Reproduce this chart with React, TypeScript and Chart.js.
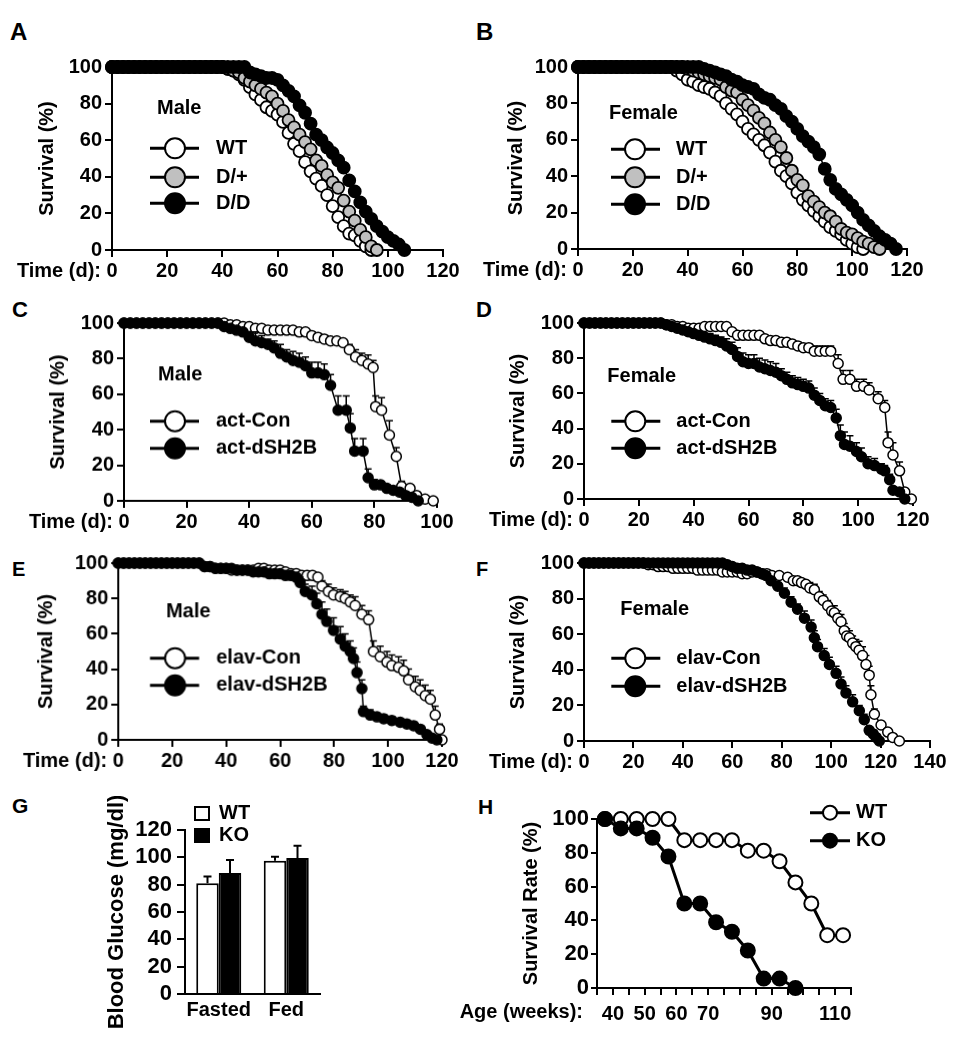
import React, { useEffect, useRef } from "react";
import { Chart, registerables } from "chart.js";

Chart.register(...registerables);

const FONT = "'Liberation Sans', Arial, Helvetica, sans-serif";
Chart.defaults.font.family = FONT;
Chart.defaults.font.weight = "bold";
Chart.defaults.color = "#000";

// ================= DATA =================
// Panel A (male) – days and survival (%)
const daysA = [0,2,4,6,8,10,12,14,16,18,20,22,24,26,28,30,32,34,36,38,40,42,44,46,48,50,52,54,56,58,60,62,64,66,68,70,72,74,76,78,80,82,84,86,88,90,92,94,96,98,100,102,104,106];
const wtA = [100,100,100,100,100,100,100,100,100,100,100,100,100,100,100,100,100,100,100,100,100,99,98,96,93,89,85,82,78,76,74,70,64,58,54,48,43,39,35,30,24,18,13,9,8,5,2,0,null,null,null,null,null,null];
const hetA = [100,100,100,100,100,100,100,100,100,100,100,100,100,100,100,100,100,100,100,100,100,99,98,97,94,92,90,88,86,84,80,76,71,67,63,59,55,49,46,41,37,34,27,21,16,11,7,2,0,null,null,null,null,null];
const ddA = [100,100,100,100,100,100,100,100,100,100,100,100,100,100,100,100,100,100,100,100,100,100,100,100,100,97,96,95,94,94,93,90,87,84,79,75,69,63,60,56,53,49,45,38,32,26,21,17,13,10,7,5,3,0];

// Panel B (female)
const daysB = [0,2,4,6,8,10,12,14,16,18,20,22,24,26,28,30,32,34,36,38,40,42,44,46,48,50,52,54,56,58,60,62,64,66,68,70,72,74,76,78,80,82,84,86,88,90,92,94,96,98,100,102,104,106,108,110,112,114,116];
const wtB = [100,100,100,100,100,100,100,100,100,100,100,100,100,100,100,100,100,100,98,96,93,92,90,89,88,86,84,80,77,74,70,66,63,60,57,53,48,43,40,36,31,27,24,21,18,15,12,10,8,5,3,1,0,null,null,null,null,null,null];
const hetB = [100,100,100,100,100,100,100,100,100,100,100,100,100,100,100,100,100,100,100,100,99,98,97,96,95,94,93,89,87,86,82,79,76,72,69,64,60,56,50,43,38,35,29,26,23,20,18,15,11,9,8,6,4,3,1,0,null,null,null];
const ddB = [100,100,100,100,100,100,100,100,100,100,100,100,100,100,100,100,100,100,100,100,100,100,100,99,98,97,96,95,93,92,90,89,88,85,83,82,79,77,73,70,66,62,59,56,52,44,38,33,30,27,24,20,16,13,10,7,5,3,0];

// Panel C (male, act)
const conCDays = [0,2,4,6,8,10,12,14,16,18,20,22,24,26,28,30,32,34,36,38,40,42,44,46,48,50,52,54,56,58,60,62,64,66,68,70,72,74,76,78,79.6,80.4,82.3,84.8,87,88.7,91.4,93.5,96.2,98.8];
const conCVals = [100,100,100,100,100,100,100,100,100,100,100,100,100,100,100,100,100,99,99,98,98,97,97,96,96,96,96,96,95,95,93,92,91,90,90,89,85,81,79,77,75,53,51,37,25,8,7,3,1,0];
const conCErr = [0,0,0,0,0,0,0,0,0,0,0,0,0,0,0,0,0,0,0,0,0,0,0,0,0,0,0,0,0,0,0,0,0,0,0,0,3,4,4,5,4,6,7,8,5,3,2,1,0,0];
const dshCDays = [0,2,4,6,8,10,12,14,16,18,20,22,24,26,28,30,32,34,36,38,40,42,44,46,48,50,52,54,56,58,60,62,64,66,68.4,71,72.3,73.7,76.4,78,80,82,84,86,88,90,92,94];
const dshCVals = [100,100,100,100,100,100,100,100,100,100,100,100,100,100,100,100,98,97,96,95,92,90,89,88,86,83,81,79,78,76,72,72,71,65,51,51,41,28,28,13,9,9,7,6,5,3,2,0];
const dshCErr = [0,0,0,0,0,0,0,0,0,0,0,0,0,0,0,0,0,0,0,0,3,5,4,3,4,5,4,5,5,5,6,6,6,6,8,8,8,7,7,5,3,2,2,1,1,1,0,0];

// Panel D (female, act)
const conDDays = [0,2,4,6,8,10,12,14,16,18,20,22,24,26,28,30,32,34,36,38,40,42,44,46,48,50,52,54,56,58,60,62,64,66,68,70,72,74,76,78,80,82,84,86,88,90,92.7,94.5,97,99.4,102,104,107.3,109.7,110.9,112.7,115.1,117,119.4];
const conDVals = [100,100,100,100,100,100,100,100,100,100,100,100,100,100,100,99,99,98,98,97,97,97,98,98,98,98,98,95,93,93,93,93,93,91,90,90,89,89,88,87,86,86,84,84,84,84,77,68,68,64,64,62,57,52,32,25,16,4,0];
const conDErr = [0,0,0,0,0,0,0,0,0,0,0,0,0,0,0,0,0,0,0,0,0,0,0,0,0,0,1,2,2,2,2,2,2,2,2,2,2,2,2,2,2,2,3,3,3,3,5,5,5,4,4,4,4,4,6,7,5,2,0];
const dshDDays = [0,2,4,6,8,10,12,14,16,18,20,22,24,26,28,30,32,34,36,38,40,42,44,46,48,50,52,54,56,58,60,62,64,66,68,70,72,74,76,78,80,82,84,86,88,90,92,93.5,95,97,99.4,101.2,103.6,106,108.5,109.7,111.5,112.7,115.1,117];
const dshDVals = [100,100,100,100,100,100,100,100,100,100,100,100,100,100,100,99,98,97,96,95,94,93,92,91,90,89,87,85,81,78,77,77,75,74,73,72,70,68,66,65,64,63,59,56,53,52,46,36,31,30,27,24,20,19,17,16,11,5,4,0];
const dshDErr = [0,0,0,0,0,0,0,0,0,0,0,0,0,0,0,0,0,0,0,0,2,2,2,3,3,3,4,4,5,5,5,5,5,5,5,5,4,4,4,4,4,4,4,4,4,4,5,6,7,6,5,5,4,4,3,3,3,2,1,0];

// Panel E (male, elav)
const conEDays = [0,2,4,6,8,10,12,14,16,18,20,22,24,26,28,30,32,34,36,38,40,42,44,46,48,50,52,54,56,58,60,62,64,66,68,70,72,74,75.5,77.9,79.8,82.3,84.1,86,87.8,90.3,92.8,94.6,97.1,99.6,101.4,103.9,105.8,107.6,110.1,111.9,113.8,115.7,117.5,119.1,120];
const conEVals = [100,100,100,100,100,100,100,100,100,100,100,100,100,100,100,100,98,98,97,97,97,96,96,96,96,96,97,97,96,96,96,95,94,94,93,93,93,92,87,84,82,81,80,78,76,71,68,50,47,44,42,41,39,34,30,28,25,23,14,6,0];
const conEErr = [0,0,0,0,0,0,0,0,0,0,0,0,0,0,0,0,0,0,0,0,0,0,0,0,0,0,0,0,0,0,0,1,1,2,2,2,2,2,3,4,4,4,4,4,5,5,5,6,6,6,6,6,6,6,6,6,6,5,5,3,0];
const dshEDays = [0,2,4,6,8,10,12,14,16,18,20,22,24,26,28,30,32,34,36,38,40,42,44,46,48,50,52,54,56,58,60,62,64,66,67.4,69.3,71.8,73.6,75.5,77.3,79.8,82.3,84.1,86,87.2,88.5,90.3,90.9,93.4,95.9,98.4,101.4,104.5,107,109.5,112,114.4,116.3,118.1];
const dshEVals = [100,100,100,100,100,100,100,100,100,100,100,100,100,100,100,100,98,98,97,97,97,97,96,96,96,95,95,95,94,94,94,93,93,92,89,84,82,77,71,67,62,57,53,50,46,38,29,16,14,13,12,11,10,9,8,6,3,1,0];
const dshEErr = [0,0,0,0,0,0,0,0,0,0,0,0,0,0,0,0,0,0,0,0,0,0,0,0,0,0,0,0,0,0,0,0,0,1,3,4,5,6,7,7,7,7,7,6,6,6,5,3,3,2,2,2,2,2,2,2,2,1,0];

// Panel F (female, elav)
const conFDays = [0,2,4,6,8,10,12,14,16,18,20,22,24,26,28,30,32,34,36,38,40,42,44,46,48,50,52,54,56,58,60,62,64,66,68,70,72,74,76,79,82.4,84.7,86.4,88,89.8,91.4,93.2,95.2,96.8,98.6,100.2,101.3,102.7,104,105.3,106.3,107.4,108.7,110,111.3,112.7,114.1,115.4,116.1,117.5,120.2,122.9,124.9,127.6];
const conFVals = [100,100,100,100,100,100,100,100,100,100,100,100,100,99,99,98,98,98,97,97,97,97,97,96,96,96,96,96,95,95,95,95,94,94,95,95,94,94,93,93,92,90,90,89,88,86,85,81,79,76,73,72,69,67,62,59,58,55,53,51,48,43,37,26,15,9,5,2,0];
const conFErr = [0,0,0,0,0,0,0,0,0,0,0,0,0,0,0,0,0,0,0,0,0,0,0,0,0,0,0,0,0,0,0,0,0,0,0,0,0,0,0,1,1,2,2,2,2,3,3,3,3,3,3,4,4,4,4,4,4,4,4,5,5,5,5,5,3,2,2,1,0];
const dshFDays = [0,2,4,6,8,10,12,14,16,18,20,22,24,26,28,30,32,34,36,38,40,42,44,46,48,50,52,54,56,58,60,62,64,66,68,70,72,73.6,75.7,78.4,81.1,83.8,86.4,89.2,91.9,93.2,94.5,97.2,99.3,102,104,106,108.7,111.4,113.4,115.4,117,118.2,119.5];
const dshFVals = [100,100,100,100,100,100,100,100,100,100,100,100,100,100,100,100,100,100,100,100,100,100,100,100,100,100,100,100,100,99,98,97,97,96,96,95,94,93,90,87,83,78,74,69,64,58,53,48,43,38,32,27,22,17,12,6,4,2,0];
const dshFErr = [0,0,0,0,0,0,0,0,0,0,0,0,0,0,0,0,0,0,0,0,0,0,0,0,0,0,0,0,0,0,0,0,0,0,0,0,0,1,2,2,3,3,3,4,4,4,4,4,4,4,4,4,4,3,3,2,2,1,0];

// Panel G (blood glucose)
const gGroups = ["Fasted", "Fed"];
const gWT = [81, 97.5];
const gWTErr = [5, 3];
const gKO = [88.5, 99.5];
const gKOErr = [9.5, 9];

// Panel H (mouse survival)
const hWeeks = [37.5, 42.5, 47.5, 52.5, 57.5, 62.5, 67.5, 72.5, 77.5, 82.5, 87.5, 92.5, 97.5, 102.5, 107.5, 112.5];
const hWT = [100, 100, 100, 100, 100, 87.5, 87.5, 87.5, 87.5, 81.25, 81.25, 75, 62.5, 50, 31.25, 31.25];
const hKO = [100, 94.4, 94.4, 88.9, 77.8, 50, 50, 38.9, 33.3, 22.2, 5.6, 5.6, 0, null, null, null];
const hTickLabels = [40, 50, 60, 70, 90, 110];

// ================= HELPERS =================
const WHITE = "#ffffff";
const GRAY = "#c0c0c0";
const BLACK = "#000000";

function toPoints(xs: number[], ys: (number | null)[], errs?: number[]) {
  const out: any[] = [];
  for (let i = 0; i < xs.length; i++) {
    const y = ys[i];
    if (y === null || y === undefined) continue;
    out.push({ x: xs[i], y, e: errs ? errs[i] || 0 : 0 });
  }
  return out;
}

const errorBarPlugin = {
  id: "errbars",
  beforeDatasetDraw(chart: any, args: any) {
    const ds: any = chart.data.datasets[args.index];
    if (!ds.errStyle) return;
    const meta = args.meta;
    const yScale = chart.scales[meta.yAxisID];
    const ctx = chart.ctx;
    ctx.save();
    ctx.strokeStyle = "#000";
    ctx.lineWidth = ds.errStyle.lw;
    meta.data.forEach((el: any, i: number) => {
      const raw = ds.data[i];
      const e = ds.errs ? ds.errs[i] : raw && raw.e;
      if (!e) return;
      const v = typeof raw === "number" ? raw : raw.y;
      const yTop = yScale.getPixelForValue(v + e);
      const x = el.x;
      ctx.beginPath();
      ctx.moveTo(x, el.y);
      ctx.lineTo(x, yTop);
      ctx.moveTo(x - ds.errStyle.cap, yTop);
      ctx.lineTo(x + ds.errStyle.cap, yTop);
      ctx.stroke();
    });
    ctx.restore();
  },
};

function makeOverlay(ox: number, oy: number, items: any[]) {
  return {
    id: "overlay",
    afterDraw(chart: any) {
      const ctx = chart.ctx;
      ctx.save();
      for (const it of items) {
        if (it.kind === "text") {
          ctx.font = `bold ${it.size}px ${FONT}`;
          ctx.fillStyle = "#000";
          ctx.textAlign = it.align;
          ctx.textBaseline = "middle";
          ctx.fillText(it.text, it.x - ox, it.y - oy);
        } else if (it.kind === "sample") {
          ctx.strokeStyle = "#000";
          ctx.lineWidth = it.lw;
          ctx.beginPath();
          ctx.moveTo(it.x1 - ox, it.y - oy);
          ctx.lineTo(it.x2 - ox, it.y - oy);
          ctx.stroke();
          ctx.beginPath();
          ctx.arc(it.cx - ox, it.y - oy, it.r, 0, Math.PI * 2);
          ctx.fillStyle = it.fill;
          ctx.fill();
          ctx.lineWidth = it.bw;
          ctx.stroke();
        } else if (it.kind === "square") {
          ctx.fillStyle = it.fill;
          ctx.fillRect(it.x - ox, it.y - oy, it.w, it.h);
          ctx.strokeStyle = "#000";
          ctx.lineWidth = 2;
          ctx.strokeRect(it.x - ox, it.y - oy, it.w, it.h);
        }
      }
      ctx.restore();
    },
  };
}

const axisGrid = (len: number) => ({
  drawOnChartArea: false,
  drawTicks: true,
  tickLength: len,
  color: "#000",
  lineWidth: 2,
});
const axisBorder = { display: true, color: "#000", width: 2 };

type Area = { l: number; t: number; r: number; b: number };
type SeriesSpec = { label: string; xs: number[]; ys: (number | null)[]; errs?: number[]; fill: string };

function survivalSpec(o: {
  area: Area;
  xMax: number;
  series: SeriesSpec[];
  radius: number;
  ptBorder: number;
  titleX: number;
  header: string;
  hx: number;
  hy: number;
  rows: number[];
  lx1: number;
  lx2: number;
  cx: number;
  tx: number;
}) {
  const fs = 20;
  const padT = 16;
  const padR = 26;
  const xH = 40;
  const left = o.area.l - 108;
  const top = o.area.t - padT;
  const yW = o.area.l - left;
  const w = yW + (o.area.r - o.area.l) + padR;
  const h = padT + (o.area.b - o.area.t) + xH;
  const items: any[] = [
    { kind: "text", text: "Time (d):", x: o.area.l - 11, y: o.area.b + 21, align: "right", size: fs },
    { kind: "text", text: o.header, x: o.hx, y: o.hy, align: "left", size: fs },
  ];
  o.series.forEach((s, i) => {
    items.push({ kind: "sample", x1: o.lx1, x2: o.lx2, cx: o.cx, y: o.rows[i], r: 10, fill: s.fill, lw: 3, bw: 2 });
    items.push({ kind: "text", text: s.label, x: o.tx, y: o.rows[i], align: "left", size: fs });
  });
  const make = () => ({
    type: "line",
    data: {
      datasets: o.series
        .map((s) => ({
          label: s.label,
          data: toPoints(s.xs, s.ys, s.errs),
          showLine: true,
          borderColor: "#000",
          borderWidth: 1.5,
          pointRadius: o.radius,
          pointHoverRadius: o.radius,
          pointBackgroundColor: s.fill,
          pointBorderColor: "#000",
          pointBorderWidth: o.ptBorder,
          clip: false,
          tension: 0,
          fill: false,
          errs: undefined,
          errStyle: s.errs ? { lw: 1.5, cap: 3.5 } : undefined,
        }))
        .reverse(),
    },
    options: {
      responsive: false,
      animation: false,
      events: [],
      layout: { padding: { left: 0, top: padT, right: padR, bottom: 0 } },
      plugins: { legend: { display: false }, tooltip: { enabled: false } },
      scales: {
        x: {
          type: "linear",
          min: 0,
          max: o.xMax,
          grid: axisGrid(7),
          border: axisBorder,
          ticks: { stepSize: 20, autoSkip: false, maxRotation: 0, padding: 2, color: "#000", font: { size: fs, weight: "bold" } },
          afterFit: (s: any) => {
            s.height = xH;
          },
        },
        y: {
          type: "linear",
          min: 0,
          max: 100,
          grid: axisGrid(7),
          border: axisBorder,
          ticks: { stepSize: 20, autoSkip: false, padding: 3, color: "#000", font: { size: fs, weight: "bold" } },
          title: {
            display: true,
            text: "Survival (%)",
            color: "#000",
            font: { size: fs, weight: "bold", lineHeight: 1 },
            padding: { top: o.titleX - left - fs / 2, bottom: 0 },
          },
          afterFit: (s: any) => {
            s.width = yW;
          },
        },
      },
    },
    plugins: [errorBarPlugin, makeOverlay(left, top, items)],
  });
  return { x: left, y: top, w, h, make };
}

// ================= PANEL SPECS =================
const LEFT_LEG = { lx1: 150, lx2: 199, cx: 175, tx: 216 };
const RIGHT_LEG = { lx1: 611, lx2: 660, cx: 635, tx: 676 };

const specA = survivalSpec({
  area: { l: 112, t: 66.7, r: 443.3, b: 250 },
  xMax: 120,
  series: [
    { label: "WT", xs: daysA, ys: wtA, fill: WHITE },
    { label: "D/+", xs: daysA, ys: hetA, fill: GRAY },
    { label: "D/D", xs: daysA, ys: ddA, fill: BLACK },
  ],
  radius: 6,
  ptBorder: 1.8,
  titleX: 47,
  header: "Male",
  hx: 157,
  hy: 108,
  rows: [148, 177, 203],
  ...LEFT_LEG,
});

const specB = survivalSpec({
  area: { l: 578, t: 66.7, r: 907, b: 249.3 },
  xMax: 120,
  series: [
    { label: "WT", xs: daysB, ys: wtB, fill: WHITE },
    { label: "D/+", xs: daysB, ys: hetB, fill: GRAY },
    { label: "D/D", xs: daysB, ys: ddB, fill: BLACK },
  ],
  radius: 6,
  ptBorder: 1.8,
  titleX: 516,
  header: "Female",
  hx: 609,
  hy: 113,
  rows: [149, 177, 204],
  ...RIGHT_LEG,
});

const specC = survivalSpec({
  area: { l: 124, t: 323.3, r: 437.3, b: 501 },
  xMax: 100,
  series: [
    { label: "act-Con", xs: conCDays, ys: conCVals, errs: conCErr, fill: WHITE },
    { label: "act-dSH2B", xs: dshCDays, ys: dshCVals, errs: dshCErr, fill: BLACK },
  ],
  radius: 5,
  ptBorder: 1.5,
  titleX: 58,
  header: "Male",
  hx: 158,
  hy: 375,
  rows: [421, 448],
  ...LEFT_LEG,
});

const specD = survivalSpec({
  area: { l: 583.7, t: 322.7, r: 913, b: 499.3 },
  xMax: 120,
  series: [
    { label: "act-Con", xs: conDDays, ys: conDVals, errs: conDErr, fill: WHITE },
    { label: "act-dSH2B", xs: dshDDays, ys: dshDVals, errs: dshDErr, fill: BLACK },
  ],
  radius: 5,
  ptBorder: 1.5,
  titleX: 518,
  header: "Female",
  hx: 607,
  hy: 376,
  rows: [421, 448],
  ...RIGHT_LEG,
});

const specE = survivalSpec({
  area: { l: 118.3, t: 563.3, r: 441.7, b: 740 },
  xMax: 120,
  series: [
    { label: "elav-Con", xs: conEDays, ys: conEVals, errs: conEErr, fill: WHITE },
    { label: "elav-dSH2B", xs: dshEDays, ys: dshEVals, errs: dshEErr, fill: BLACK },
  ],
  radius: 5,
  ptBorder: 1.5,
  titleX: 47,
  header: "Male",
  hx: 166,
  hy: 612,
  rows: [658, 685],
  ...LEFT_LEG,
});

const specF = survivalSpec({
  area: { l: 583.7, t: 562.7, r: 929.7, b: 740.7 },
  xMax: 140,
  series: [
    { label: "elav-Con", xs: conFDays, ys: conFVals, errs: conFErr, fill: WHITE },
    { label: "elav-dSH2B", xs: dshFDays, ys: dshFVals, errs: dshFErr, fill: BLACK },
  ],
  radius: 5,
  ptBorder: 1.5,
  titleX: 518,
  header: "Female",
  hx: 620,
  hy: 609,
  rows: [658, 686],
  ...RIGHT_LEG,
});

// Panel G
function glucoseSpec() {
  const area = { l: 185, t: 830, r: 320, b: 994 };
  const left = 100;
  const padT = 34;
  const padR = 20;
  const xH = 36;
  const top = area.t - padT;
  const yW = area.l - left;
  const w = yW + (area.r - area.l) + padR;
  const h = padT + (area.b - area.t) + xH;
  const items = [
    { kind: "square", x: 195, y: 807, w: 14, h: 13, fill: WHITE },
    { kind: "square", x: 195, y: 829, w: 14, h: 13, fill: BLACK },
    { kind: "text", text: "WT", x: 219, y: 813, align: "left", size: 20 },
    { kind: "text", text: "KO", x: 219, y: 835, align: "left", size: 20 },
  ];
  const make = () => ({
    type: "bar",
    data: {
      labels: gGroups,
      datasets: [
        {
          label: "WT",
          data: gWT,
          errs: gWTErr,
          errStyle: { lw: 2, cap: 4 },
          backgroundColor: WHITE,
          borderColor: "#000",
          borderWidth: 2,
          categoryPercentage: 0.667,
          barPercentage: 1,
        },
        {
          label: "KO",
          data: gKO,
          errs: gKOErr,
          errStyle: { lw: 2, cap: 4 },
          backgroundColor: BLACK,
          borderColor: "#000",
          borderWidth: 2,
          categoryPercentage: 0.667,
          barPercentage: 1,
        },
      ],
    },
    options: {
      responsive: false,
      animation: false,
      events: [],
      layout: { padding: { left: 0, top: padT, right: padR, bottom: 0 } },
      plugins: { legend: { display: false }, tooltip: { enabled: false } },
      scales: {
        x: {
          grid: { display: false, drawTicks: false },
          border: axisBorder,
          ticks: {
            autoSkip: false,
            maxRotation: 0,
            minRotation: 0,
            padding: 4,
            color: "#000",
            font: { size: 20, weight: "bold" },
          },
          afterFit: (s: any) => {
            s.height = xH;
          },
        },
        y: {
          min: 0,
          max: 120,
          grid: axisGrid(8),
          border: axisBorder,
          ticks: { stepSize: 20, autoSkip: false, padding: 5, color: "#000", font: { size: 22, weight: "bold" } },
          title: {
            display: true,
            text: "Blood Glucose (mg/dl)",
            color: "#000",
            font: { size: 22, weight: "bold", lineHeight: 1 },
            padding: { top: 117 - left - 11, bottom: 0 },
          },
          afterFit: (s: any) => {
            s.width = yW;
          },
        },
      },
    },
    plugins: [errorBarPlugin, makeOverlay(left, top, items)],
  });
  return { x: left, y: top, w, h, make };
}

// Panel H
function mouseSpec() {
  const area = { l: 597, t: 819.3, r: 851, b: 988.3 };
  const left = 460;
  const padT = 24;
  const padR = 50;
  const xH = 44;
  const top = area.t - padT;
  const yW = area.l - left;
  const w = yW + (area.r - area.l) + padR;
  const h = padT + (area.b - area.t) + xH;
  const items = [
    { kind: "text", text: "Age (weeks):", x: 583, y: 1013, align: "right", size: 20 },
    { kind: "sample", x1: 810, x2: 850, cx: 830, y: 813, r: 7, fill: WHITE, lw: 3, bw: 2 },
    { kind: "text", text: "WT", x: 856, y: 813, align: "left", size: 20 },
    { kind: "sample", x1: 810, x2: 850, cx: 830, y: 841, r: 7, fill: BLACK, lw: 3, bw: 2 },
    { kind: "text", text: "KO", x: 856, y: 841, align: "left", size: 20 },
  ];
  const ds = (label: string, ys: (number | null)[], fill: string) => ({
    label,
    data: toPoints(hWeeks, ys),
    showLine: true,
    borderColor: "#000",
    borderWidth: 3,
    pointRadius: 7,
    pointHoverRadius: 7,
    pointBackgroundColor: fill,
    pointBorderColor: "#000",
    pointBorderWidth: 2,
    clip: false,
    tension: 0,
    fill: false,
  });
  const make = () => ({
    type: "line",
    data: { datasets: [ds("KO", hKO, BLACK), ds("WT", hWT, WHITE)] },
    options: {
      responsive: false,
      animation: false,
      events: [],
      layout: { padding: { left: 0, top: padT, right: padR, bottom: 0 } },
      plugins: { legend: { display: false }, tooltip: { enabled: false } },
      scales: {
        x: {
          type: "linear",
          min: 35,
          max: 115,
          grid: axisGrid(7),
          border: axisBorder,
          ticks: {
            stepSize: 5,
            autoSkip: false,
            maxRotation: 0,
            padding: 7,
            color: "#000",
            font: { size: 20, weight: "bold" },
            callback: (v: any) => (hTickLabels.indexOf(Number(v)) >= 0 ? String(v) : ""),
          },
          afterFit: (s: any) => {
            s.height = xH;
          },
        },
        y: {
          type: "linear",
          min: 0,
          max: 100,
          grid: axisGrid(6),
          border: axisBorder,
          ticks: { stepSize: 20, autoSkip: false, padding: 2, color: "#000", font: { size: 22, weight: "bold" } },
          title: {
            display: true,
            text: "Survival Rate (%)",
            color: "#000",
            font: { size: 20, weight: "bold", lineHeight: 1 },
            padding: { top: 531 - left - 10, bottom: 0 },
          },
          afterFit: (s: any) => {
            s.width = yW;
          },
        },
      },
    },
    plugins: [makeOverlay(left, top, items)],
  });
  return { x: left, y: top, w, h, make };
}

const PANELS = [specA, specB, specC, specD, specE, specF, glucoseSpec(), mouseSpec()];

const LETTERS = [
  { t: "A", x: 10, y: 20, s: 24 },
  { t: "B", x: 476, y: 20, s: 24 },
  { t: "C", x: 12, y: 299, s: 22 },
  { t: "D", x: 476, y: 299, s: 22 },
  { t: "E", x: 12, y: 559, s: 20 },
  { t: "F", x: 476, y: 559, s: 20 },
  { t: "G", x: 12, y: 795, s: 21 },
  { t: "H", x: 478, y: 796, s: 21 },
];

function ChartCanvas({ spec }: { spec: any }) {
  const ref = useRef<HTMLCanvasElement | null>(null);
  useEffect(() => {
    if (!ref.current) return;
    const chart = new Chart(ref.current, spec.make());
    return () => chart.destroy();
  }, [spec]);
  return (
    <canvas
      ref={ref}
      width={spec.w}
      height={spec.h}
      style={{ position: "absolute", left: spec.x, top: spec.y, width: spec.w, height: spec.h }}
    />
  );
}

export default function App() {
  return (
    <div
      style={{
        position: "absolute",
        left: 0,
        top: 0,
        width: 966,
        height: 1050,
        background: "#fff",
        overflow: "hidden",
      }}
    >
      {LETTERS.map((l) => (
        <div
          key={l.t}
          style={{
            position: "absolute",
            left: l.x,
            top: l.y,
            fontFamily: FONT,
            fontWeight: "bold",
            fontSize: l.s,
            lineHeight: 1,
            color: "#000",
          }}
        >
          {l.t}
        </div>
      ))}
      {PANELS.map((p, i) => (
        <ChartCanvas key={i} spec={p} />
      ))}
    </div>
  );
}
